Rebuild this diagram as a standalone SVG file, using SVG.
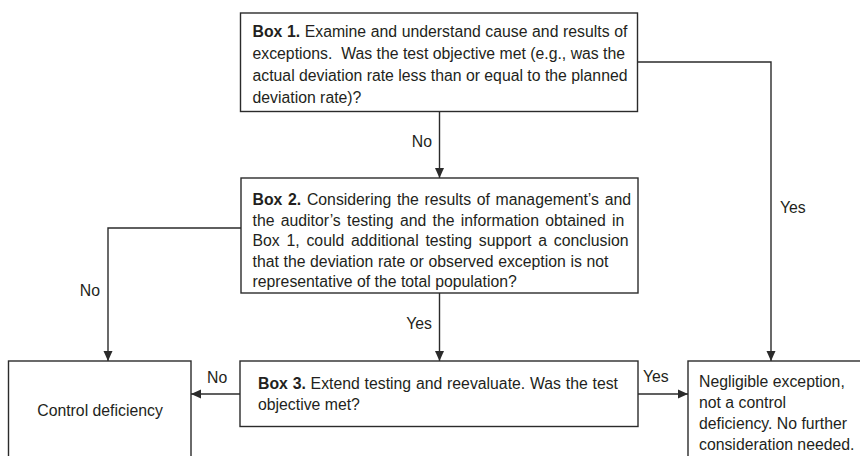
<svg xmlns="http://www.w3.org/2000/svg" width="860" height="456" viewBox="0 0 860 456">
  <defs>
    <style>
      .box { fill: #ffffff; stroke: #2b2b2b; stroke-width: 1.4; }
      .edge { fill: none; stroke: #2b2b2b; stroke-width: 1.4; }
      text { font-family: "Liberation Sans", Arial, sans-serif; font-size: 15.8px; fill: #231f20; }
      .b { font-weight: bold; }
      .mid { text-anchor: middle; }
      .end { text-anchor: end; }
    </style>
    <marker id="arrow" viewBox="0 0 10 10" refX="10" refY="5" markerWidth="10" markerHeight="10" markerUnits="userSpaceOnUse" orient="auto">
      <path d="M0,0.5 L10,5 L0,9.5 Z" fill="#2b2b2b"/>
    </marker>
  </defs>
  <rect width="860" height="456" fill="#ffffff"/>

  <!-- connectors -->
  <g id="connectors">
    <!-- Box 1 -> Box 2 (No) -->
    <line class="edge" x1="439.5" y1="111.5" x2="439.5" y2="178" marker-end="url(#arrow)"/>
    <text x="432" y="147" class="end">No</text>
    <!-- Box 1 -> Negligible exception (Yes) -->
    <polyline class="edge" points="637.5,62 771,62 771,361" marker-end="url(#arrow)"/>
    <text x="780" y="213">Yes</text>
    <!-- Box 2 -> Control deficiency (No) -->
    <polyline class="edge" points="241,228 108,228 108,361" marker-end="url(#arrow)"/>
    <text x="100" y="296" class="end">No</text>
    <!-- Box 2 -> Box 3 (Yes) -->
    <line class="edge" x1="439.5" y1="293" x2="439.5" y2="361" marker-end="url(#arrow)"/>
    <text x="432" y="329" class="end">Yes</text>
    <!-- Box 3 -> Control deficiency (No) -->
    <line class="edge" x1="240" y1="394" x2="191" y2="394" marker-end="url(#arrow)"/>
    <text x="207" y="383">No</text>
    <!-- Box 3 -> Negligible exception (Yes) -->
    <line class="edge" x1="638" y1="394" x2="688" y2="394" marker-end="url(#arrow)"/>
    <text x="643" y="382">Yes</text>
  </g>

  <g id="box1">
    <rect class="box" x="240.5" y="13" width="397" height="98.5"/>
    <text x="252.5" y="37" word-spacing="0.2"><tspan class="b">Box 1.</tspan> Examine and understand cause and results of</text>
    <text x="252.5" y="59" xml:space="preserve">exceptions.  Was the test objective met (e.g., was the</text>
    <text x="252.5" y="81">actual deviation rate less than or equal to the planned</text>
    <text x="252.5" y="102.5">deviation rate)?</text>
  </g>

  <g id="box2">
    <rect class="box" x="241" y="178" width="397" height="115"/>
    <text x="252.5" y="205" word-spacing="1.3"><tspan class="b">Box 2.</tspan> Considering the results of management’s and</text>
    <text x="252.5" y="225.5" word-spacing="1.9">the auditor’s testing and the information obtained in</text>
    <text x="252.5" y="246" word-spacing="2.4">Box 1, could additional testing support a conclusion</text>
    <text x="252.5" y="266.5" word-spacing="0.25">that the deviation rate or observed exception is not</text>
    <text x="252.5" y="287">representative of the total population?</text>
  </g>

  <g id="box3">
    <rect class="box" x="240" y="361" width="398" height="65.5"/>
    <text x="258" y="389" word-spacing="0.4"><tspan class="b">Box 3.</tspan> Extend testing and reevaluate. Was the test</text>
    <text x="258" y="410">objective met?</text>
  </g>

  <g id="control-deficiency">
    <rect class="box" x="8.5" y="361" width="182.5" height="100"/>
    <text x="100" y="416" class="mid">Control deficiency</text>
  </g>

  <g id="negligible-exception">
    <rect class="box" x="688" y="361" width="180" height="100"/>
    <text x="699" y="387">Negligible exception,</text>
    <text x="699" y="408">not a control</text>
    <text x="699" y="429">deficiency. No further</text>
    <text x="699" y="450">consideration needed.</text>
  </g>
</svg>
